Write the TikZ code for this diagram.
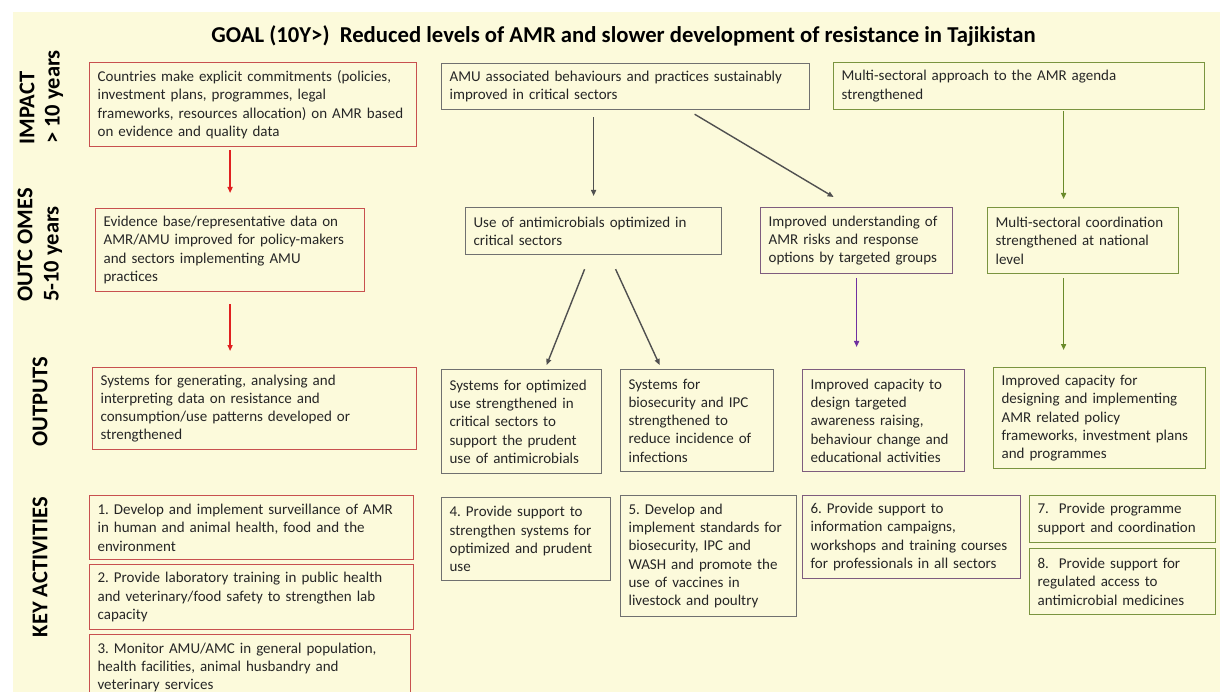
\documentclass[tikz,border=0pt]{standalone}
\usepackage{fontspec}
\setmainfont{Carlito}
\usetikzlibrary{arrows.meta}
\definecolor{cream}{HTML}{FCFADB}
\definecolor{txt}{HTML}{262626}
\definecolor{redbox}{HTML}{C8504F}
\definecolor{redarr}{HTML}{E02020}
\definecolor{greybox}{HTML}{707070}
\definecolor{greyarr}{HTML}{505050}
\definecolor{purbox}{HTML}{7E5C7E}
\definecolor{purarr}{HTML}{7030A0}
\definecolor{grnbox}{HTML}{7A9440}
\definecolor{grnarr}{HTML}{6A8A2A}
\tikzset{
  boxbase/.style={draw, line width=1.2pt, fill=cream, text=txt, align=left, inner xsep=8pt, inner ysep=3pt,
    font=\fontsize{15}{18.3}\selectfont},
  rbox/.style={boxbase, draw=redbox},
  gbox/.style={boxbase, draw=greybox},
  pbox/.style={boxbase, draw=purbox},
  vbox/.style={boxbase, draw=grnbox},
  conn/.style={line width=1.4pt, -{Triangle[length=6pt,width=5pt]}},
  sidelabel/.style={rotate=90, text=black, font=\bfseries\fontsize{22.5}{26}\selectfont},
}
\newcommand{\mybox}[7]{%
  \pgfmathsetmacro{\bxw}{#4-#2}\pgfmathsetmacro{\bxh}{#5-#3}\pgfmathsetmacro{\bxt}{#4-#2-16}%
  \node[#6, anchor=north west, minimum width=\bxw pt, minimum height=\bxh pt, text width=\bxt pt] (#1) at (#2,#3) {#7};}
\begin{document}
\frenchspacing
\begin{tikzpicture}[x=1pt,y=-1pt]
\useasboundingbox (0,0) rectangle (1220,692);
\clip (0,0) rectangle (1220,692);
\fill[white] (0,0) rectangle (1220,692);
\fill[cream] (13,12) rectangle (1220,692);

\node[font=\bfseries\fontsize{22.7}{26}\selectfont, text=black] (title) at (623.5,36)
  {GOAL (10Y>)\ \ Reduced levels of AMR and slower development of resistance in Tajikistan};

\node[sidelabel] (limpact) at (27,108) {IMPACT};
\node[sidelabel] (limpact2) at (54,97) {> 10 years};
\node[sidelabel] (lout) at (25,245) {OUTC OMES};
\node[sidelabel] (lout2) at (53,254) {5-10 years};
\node[sidelabel] (loutputs) at (40,402) {OUTPUTS};
\node[sidelabel] (lact) at (40,567) {KEY ACTIVITIES};

% impact
\mybox{impr}{89}{62}{416}{146}{rbox}{Countries make explicit commitments (policies,\\ investment plans, programmes, legal\\ frameworks, resources allocation) on AMR based\\ on evidence and quality data}
\mybox{amu}{441}{63}{809}{109}{gbox}{AMU associated behaviours and practices sustainably\\ improved in critical sectors}
\mybox{impg}{833}{62}{1204}{109}{vbox}{Multi-sectoral approach to the AMR agenda\\ strengthened}

% outcomes
\mybox{ocr}{95}{208}{364}{291}{rbox}{Evidence base/representative data on\\ AMR/AMU improved for policy-makers\\ and sectors implementing AMU\\ practices}
\mybox{use}{465}{207}{721}{254}{gbox}{Use of antimicrobials optimized in\\ critical sectors}
\mybox{und}{760}{207}{952}{273}{pbox}{Improved understanding of\\ AMR risks and response\\ options by targeted groups}
\mybox{ocg}{987}{207}{1178}{273}{vbox}{Multi-sectoral coordination\\ strengthened at national\\ level}

% outputs
\mybox{opr}{92}{367}{416}{449}{rbox}{Systems for generating, analysing and\\ interpreting data on resistance and\\ consumption/use patterns developed or\\ strengthened}
\mybox{opg1}{441}{369}{601}{473}{gbox}{Systems for optimized\\ use strengthened in\\ critical sectors to\\ support the prudent\\ use of antimicrobials}
\mybox{opg2}{620}{369}{773}{471}{gbox}{Systems for\\ biosecurity and IPC\\ strengthened to\\ reduce incidence of\\ infections}
\mybox{opp}{802}{369}{964}{471}{pbox}{Improved capacity to\\ design targeted\\ awareness raising,\\ behaviour change and\\ educational activities}
\mybox{opv}{993}{367}{1205}{468}{vbox}{Improved capacity for\\ designing and implementing\\ AMR related policy\\ frameworks, investment plans\\ and programmes}

% activities
\mybox{a1}{89}{495}{413}{559}{rbox}{1. Develop and implement surveillance of AMR\\ in human and animal health, food and the\\ environment}
\mybox{a2}{89}{564}{413}{629}{rbox}{2. Provide laboratory training in public health\\ and veterinary/food safety to strengthen lab\\ capacity}
\mybox{a3}{89}{634}{410}{700}{rbox}{3. Monitor AMU/AMC in general population,\\ health facilities, animal husbandry and\\ veterinary services}
\mybox{a4}{441}{497}{610}{580}{gbox}{4. Provide support to\\ strengthen systems for\\ optimized and prudent\\ use}
\mybox{a5}{620}{495}{796}{616}{gbox}{5. Develop and\\ implement standards for\\ biosecurity, IPC and\\ WASH and promote the\\ use of vaccines in\\ livestock and poultry}
\mybox{a6}{802}{495}{1020}{578}{pbox}{6. Provide support to\\ information campaigns,\\ workshops and training courses\\ for professionals in all sectors}
\mybox{a7}{1029}{495}{1215}{542}{vbox}{7.\ \ Provide programme\\ support and coordination}
\mybox{a8}{1029}{548}{1215}{614}{vbox}{8.\ \ Provide support for\\ regulated access to\\ antimicrobial medicines}

% connectors
\draw[conn, redarr, shorten <=3pt, shorten >=15pt] (impr.south -| ocr.north) -- (ocr.north);
\draw[conn, redarr, shorten <=12pt, shorten >=16pt] (ocr.south) -- (ocr.south |- opr.north);
\draw[conn, greyarr, shorten <=7pt, shorten >=11pt] (amu.south -| use.north) -- (use.north);
\draw[conn, greyarr] ([xshift=69pt,yshift=-4pt]amu.south) -- ([xshift=-23pt,yshift=10pt]und.north);
\draw[conn, greyarr] ([xshift=-9pt,yshift=-14pt]use.south) -- ([xshift=25pt,yshift=4pt]opg1.north);
\draw[conn, greyarr] ([xshift=22pt,yshift=-14pt]use.south) -- ([xshift=-37.5pt,yshift=4pt]opg2.north);
\draw[conn, purarr, shorten <=4pt, shorten >=22pt] (und.south) -- (und.south |- opp.north);
\draw[conn, grnarr, shorten <=1pt, shorten >=8pt] ([xshift=44.5pt]impg.south) -- ([xshift=-19.5pt]ocg.north);
\draw[conn, grnarr, shorten <=4pt, shorten >=17pt] ([xshift=-19.5pt]ocg.south) -- ([xshift=-36pt]opv.north);
\end{tikzpicture}
\end{document}
